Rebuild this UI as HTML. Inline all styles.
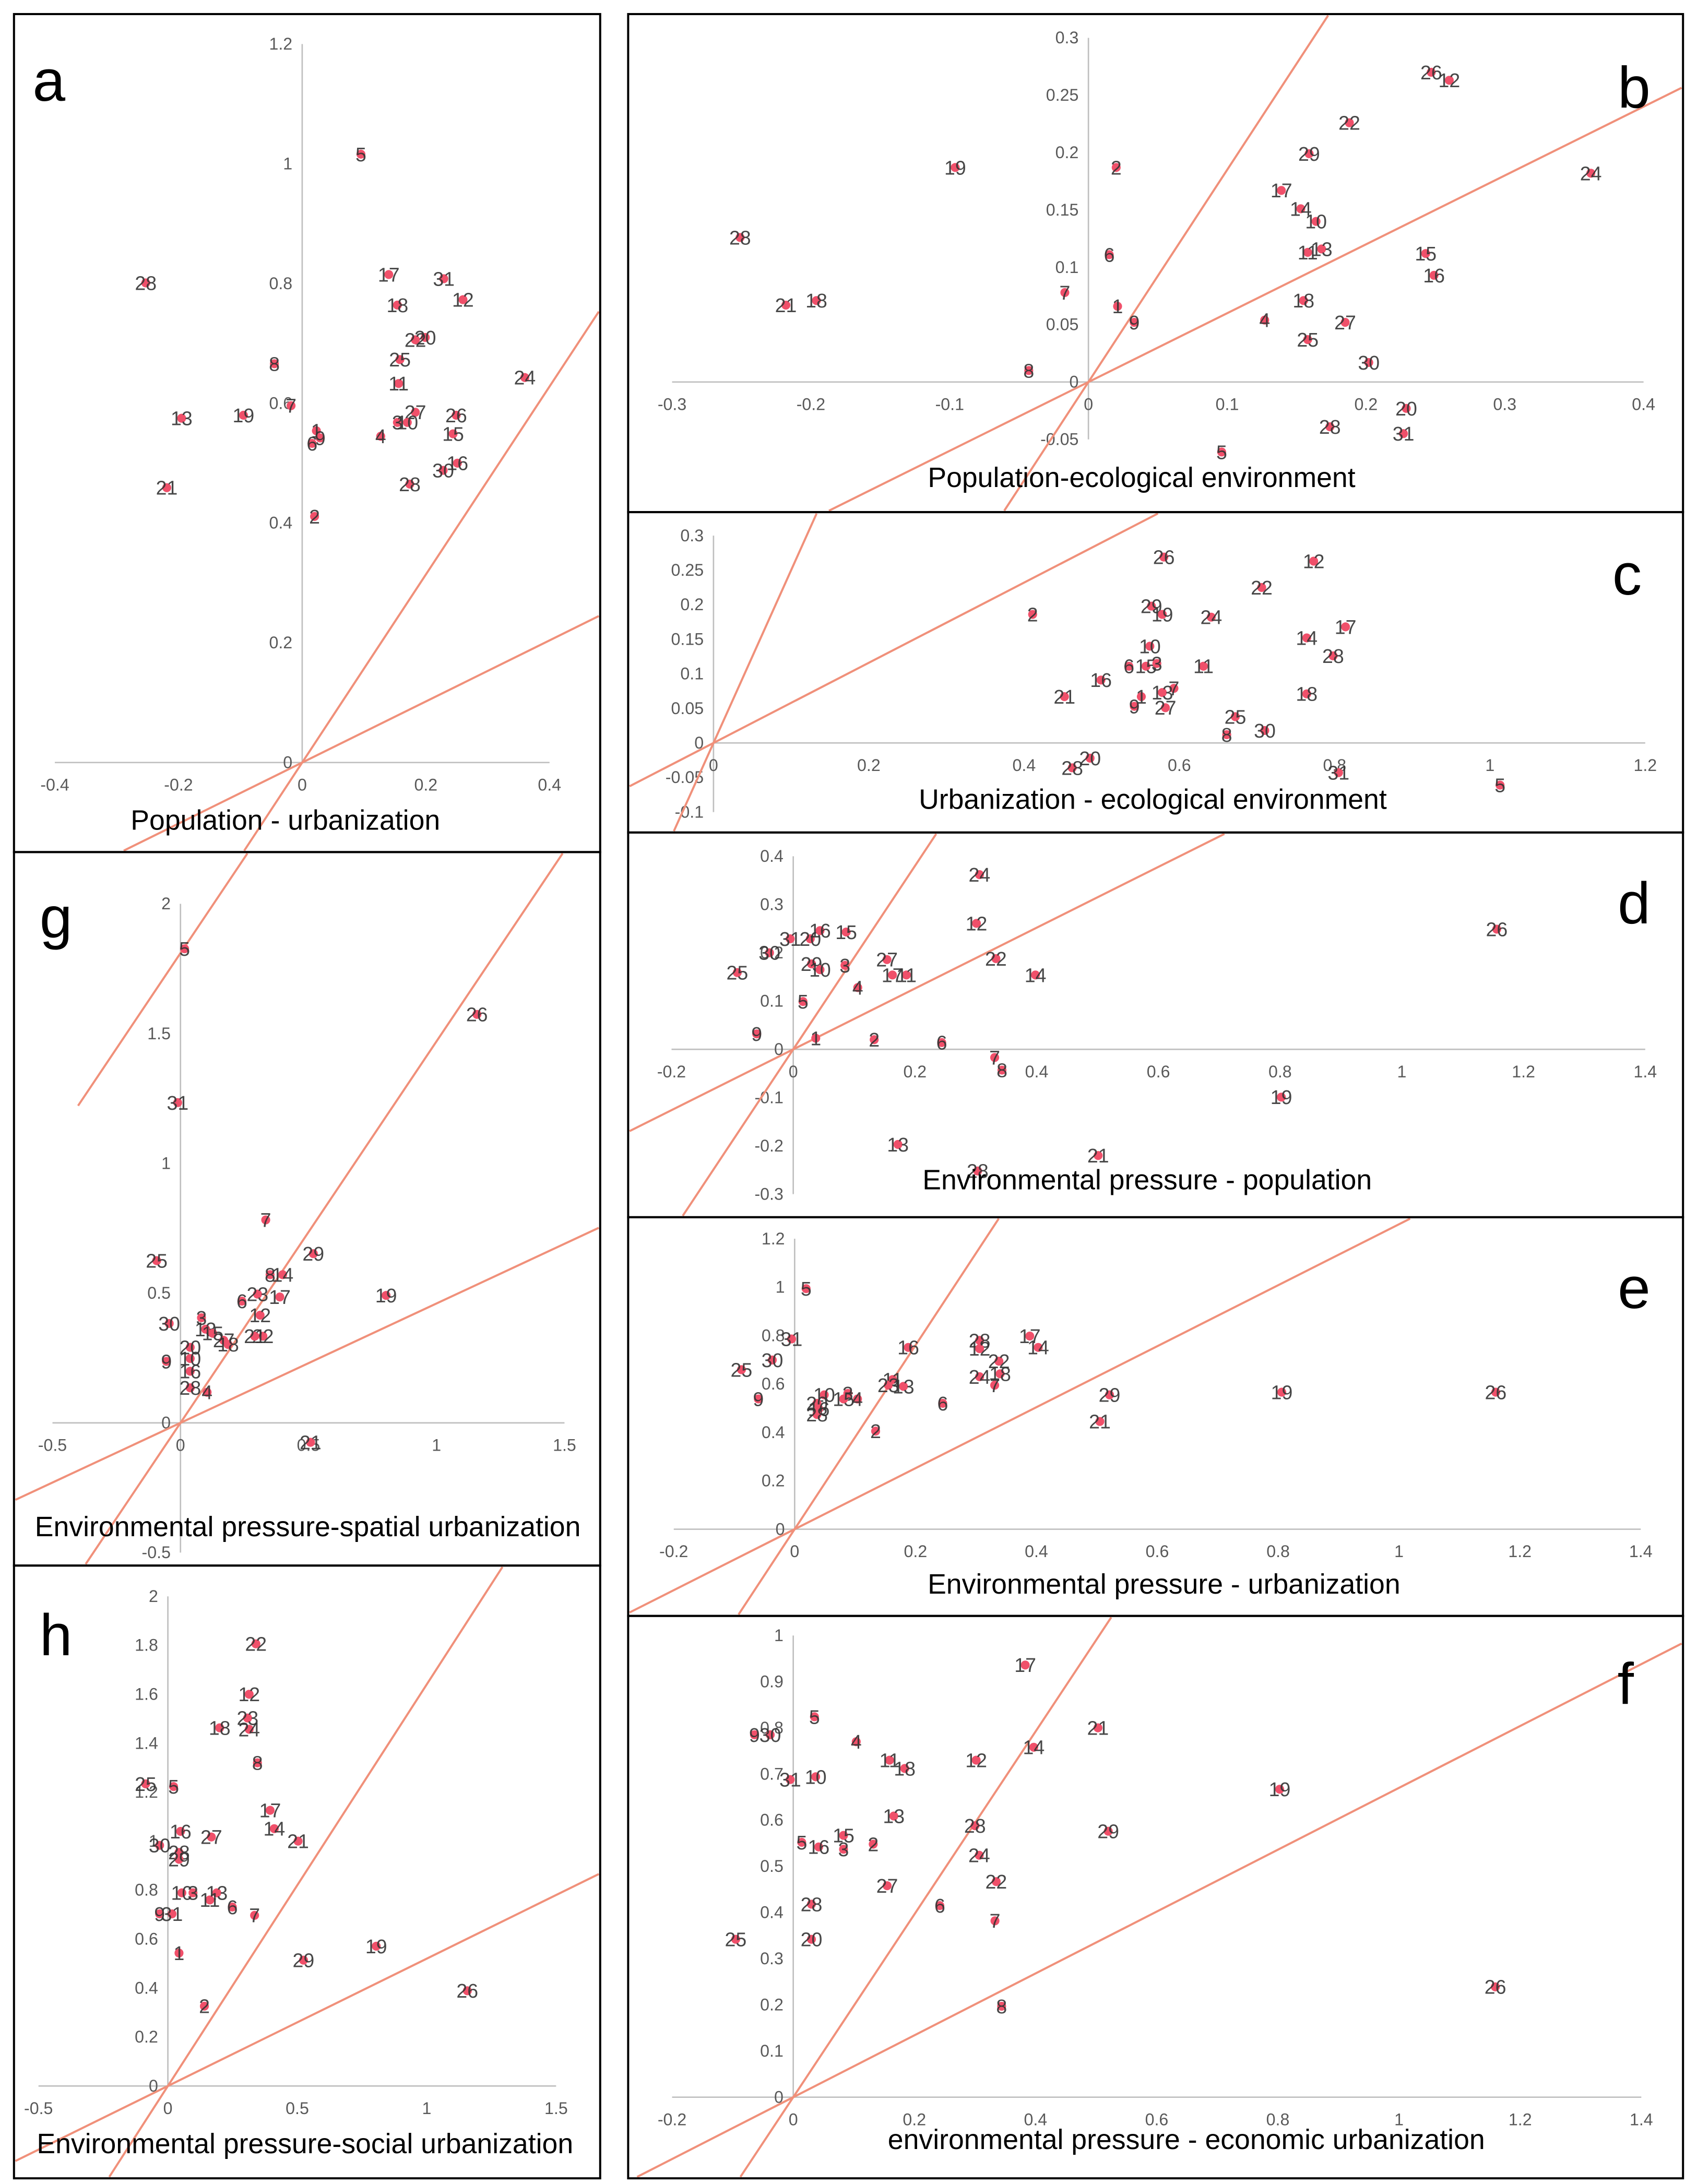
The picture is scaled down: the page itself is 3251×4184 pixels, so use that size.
<!DOCTYPE html>
<html><head><meta charset="utf-8"><style>
html,body{margin:0;padding:0;background:#fff;width:3251px;height:4184px;overflow:hidden;position:relative}
svg{display:block;position:absolute;left:0;top:0;overflow:hidden}
text{font-family:"Liberation Sans",Arial,sans-serif}
</style></head><body>
<svg id="fig" width="3251" height="4184" viewBox="0 0 1213 1561" xmlns="http://www.w3.org/2000/svg"></svg>
<script>
// ---------- DATA ----------
const aLabels=["5","17","31","28","18","12","20","22","8","25","11","24","7","13","19","27","26","3","10","15","1","9","6","4","16","30","28","21","2"];
const aX=[0.095,0.140,0.229,-0.253,0.154,0.260,0.199,0.183,-0.045,0.158,0.156,0.360,-0.018,-0.195,-0.095,0.183,0.249,0.154,0.170,0.244,0.023,0.029,0.016,0.127,0.251,0.228,0.174,-0.219,0.020];
const aY=[1.016,0.815,0.808,0.801,0.764,0.773,0.710,0.706,0.666,0.673,0.633,0.643,0.596,0.575,0.580,0.585,0.580,0.568,0.568,0.549,0.554,0.542,0.533,0.545,0.500,0.488,0.465,0.459,0.411];
const aXTicks=[-0.4,-0.2,0,0.2,0.4];
const aYTicks=[0,0.2,0.4,0.6,0.8,1,1.2];

const bLabels=["26","12","22","29","19","2","24","17","14","10","28","6","11","13","15","16","21","18","7","18","1","9","4","27","25","30","8","20","31","28","5"];
const bX=[0.247,0.260,0.188,0.159,-0.096,0.020,0.362,0.139,0.153,0.164,-0.251,0.015,0.158,0.168,0.243,0.249,-0.218,-0.196,-0.017,0.155,0.021,0.033,0.127,0.185,0.158,0.202,-0.043,0.229,0.227,0.174,0.096];
const bY=[0.270,0.263,0.226,0.199,0.187,0.187,0.182,0.167,0.151,0.140,0.126,0.111,0.113,0.116,0.112,0.093,0.067,0.071,0.078,0.071,0.066,0.052,0.054,0.052,0.037,0.017,0.010,-0.023,-0.045,-0.039,-0.061];
const bXTicks=[-0.3,-0.2,-0.1,0,0.1,0.2,0.3,0.4];
const bYTicks=[-0.05,0,0.05,0.1,0.15,0.2,0.25,0.3];

const cLabels=["26","12","22","2","29","19","24","17","14","10","28","6","15","3","11","16","21","7","1","13","9","27","18","25","8","30","20","28","31","5"];
const cX=[0.580,0.773,0.706,0.411,0.564,0.578,0.641,0.814,0.764,0.562,0.798,0.535,0.557,0.571,0.631,0.499,0.452,0.593,0.551,0.578,0.542,0.582,0.764,0.672,0.661,0.710,0.485,0.462,0.805,1.013];
const cY=[0.269,0.263,0.225,0.186,0.198,0.186,0.182,0.168,0.152,0.140,0.126,0.111,0.111,0.115,0.111,0.091,0.067,0.079,0.067,0.073,0.053,0.051,0.071,0.038,0.012,0.018,-0.022,-0.036,-0.043,-0.061];
const cXTicks=[0,0.2,0.4,0.6,0.8,1,1.2];
const cYTicks=[-0.1,-0.05,0,0.05,0.1,0.15,0.2,0.25,0.3];

const dLabels=["24","12","26","31","20","16","15","30","25","29","10","27","22","3","17","11","14","4","5","9","1","2","6","7","8","19","13","21","28"];
const dX=[0.306,0.301,1.156,-0.005,0.028,0.044,0.087,-0.039,-0.092,0.030,0.044,0.154,0.333,0.085,0.163,0.186,0.398,0.106,0.016,-0.060,0.037,0.133,0.244,0.331,0.343,0.802,0.172,0.501,0.303];
const dY=[0.362,0.261,0.249,0.229,0.229,0.246,0.243,0.200,0.159,0.177,0.165,0.186,0.188,0.174,0.154,0.154,0.154,0.128,0.099,0.032,0.023,0.020,0.014,-0.017,-0.043,-0.099,-0.197,-0.220,-0.252];
const dXTicks=[-0.2,0,0.2,0.4,0.6,0.8,1,1.2,1.4];
const dYTicks=[-0.3,-0.2,-0.1,0,0.1,0.2,0.3,0.4];

const eLabels=["5","31","17","28","14","16","12","22","30","25","24","18","11","7","23","13","9","10","3","15","4","6","29","19","26","20","16","28","21","2"];
const eX=[0.019,-0.005,0.389,0.306,0.403,0.188,0.306,0.338,-0.037,-0.088,0.306,0.340,0.162,0.331,0.155,0.180,-0.060,0.049,0.088,0.081,0.104,0.245,0.521,0.806,1.160,0.037,0.040,0.037,0.505,0.134];
const eY=[0.994,0.786,0.798,0.780,0.751,0.751,0.746,0.694,0.699,0.659,0.630,0.642,0.618,0.595,0.595,0.590,0.538,0.555,0.561,0.538,0.538,0.520,0.555,0.566,0.566,0.520,0.497,0.474,0.445,0.405];
const eXTicks=[-0.2,0,0.2,0.4,0.6,0.8,1,1.2,1.4];
const eYTicks=[0,0.2,0.4,0.6,0.8,1,1.2];

const fLabels=["17","21","9","30","5","4","14","11","18","12","31","10","19","13","28","29","15","5","16","3","2","24","22","27","6","28","7","25","20","26","8"];
const fX=[0.383,0.503,-0.064,-0.038,0.035,0.104,0.397,0.159,0.184,0.302,-0.005,0.037,0.803,0.166,0.300,0.520,0.083,0.014,0.042,0.083,0.132,0.307,0.335,0.155,0.242,0.030,0.333,-0.095,0.030,1.159,0.344];
const fY=[0.936,0.800,0.785,0.785,0.824,0.770,0.758,0.730,0.712,0.730,0.688,0.694,0.667,0.609,0.588,0.576,0.567,0.552,0.542,0.537,0.548,0.524,0.467,0.458,0.415,0.418,0.382,0.342,0.342,0.239,0.197];
const fXTicks=[-0.2,0,0.2,0.4,0.6,0.8,1,1.2,1.4];
const fYTicks=[0,0.1,0.2,0.3,0.4,0.5,0.6,0.7,0.8,0.9,1];

const gLabels=["5","26","31","7","25","29","8","14","23","17","19","6","12","30","3","13","15","22","21","27","18","20","10","9","16","28","4","21"];
const gX=[0.016,1.158,-0.011,0.333,-0.093,0.519,0.350,0.399,0.301,0.388,0.803,0.240,0.311,-0.044,0.082,0.098,0.126,0.322,0.290,0.169,0.186,0.038,0.038,-0.055,0.038,0.038,0.104,0.508];
const gY=[1.827,1.574,1.234,0.782,0.625,0.652,0.571,0.571,0.496,0.485,0.491,0.469,0.415,0.383,0.405,0.361,0.345,0.334,0.334,0.318,0.302,0.291,0.248,0.237,0.199,0.135,0.118,-0.075];
const gXTicks=[-0.5,0,0.5,1,1.5];
const gYTicks=[-0.5,0,0.5,1,1.5,2];

const hLabels=["22","12","23","18","24","8","25","5","17","16","14","27","21","30","28","29","10","3","13","11","6","7","9","31","19","1","29","26","2"];
const hX=[0.340,0.314,0.308,0.200,0.314,0.346,-0.086,0.022,0.395,0.049,0.411,0.168,0.503,-0.032,0.043,0.043,0.054,0.097,0.189,0.162,0.249,0.335,-0.032,0.016,0.805,0.043,0.524,1.157,0.141];
const hY=[1.806,1.600,1.503,1.463,1.457,1.320,1.234,1.223,1.126,1.040,1.051,1.017,1.000,0.983,0.954,0.926,0.789,0.789,0.789,0.760,0.731,0.697,0.703,0.703,0.571,0.543,0.514,0.389,0.326];
const hXTicks=[-0.5,0,0.5,1,1.5];
const hYTicks=[0,0.2,0.4,0.6,0.8,1,1.2,1.4,1.6,1.8,2];

// line slopes / intercepts (data units)
const aSlopes=[1.57,0.51]; const aIntercepts=[0,0];
const bSlopes=[1.85,0.6]; const bIntercepts=[0,0];
const cSlopes=[2.5,0.58]; const cIntercepts=[0,0];
const dSlopes=[1.9,0.63]; const dIntercepts=[0,0];
const eSlopes=[3.8,1.26]; const eIntercepts=[0,0];
const fSlopes=[1.98,0.67]; const fIntercepts=[0,0];
const gSlopes=[1.47,1.47,0.46]; const gIntercepts=[1.81,0,0];
const hSlopes=[1.64,0.52]; const hIntercepts=[0,0];
const gLineMin=[-0.4,null,null];

// ---------- LAYOUT ----------
const panels=[
 {id:"a",box:[10,10,419,599],ox:216,oy:545,kx:442,ky:428,labels:aLabels,xs:aX,ys:aY,xt:aXTicks,yt:aYTicks,sl:aSlopes,ic:aIntercepts,title:"Population - urbanization",tx:204,ty:600,lx:35,ly:72,yExt:[0,1.2]},
 {id:"b",box:[449,10,754,356],ox:778,oy:273,kx:992,ky:820,labels:bLabels,xs:bX,ys:bY,xt:bXTicks,yt:bYTicks,sl:bSlopes,ic:bIntercepts,title:"Population-ecological environment",tx:816,ty:355,lx:1168,ly:77,yExt:[-0.05,0.3]},
 {id:"c",box:[449,366,754,229],ox:510,oy:531,kx:555,ky:494,labels:cLabels,xs:cX,ys:cY,xt:cXTicks,yt:cYTicks,sl:cSlopes,ic:cIntercepts,title:"Urbanization - ecological environment",tx:824,ty:585,lx:1163,ly:425,yExt:[-0.1,0.3]},
 {id:"d",box:[449,595,754,275],ox:567,oy:750,kx:435,ky:345,labels:dLabels,xs:dX,ys:dY,xt:dXTicks,yt:dYTicks,sl:dSlopes,ic:dIntercepts,title:"Environmental pressure - population",tx:820,ty:857,lx:1168,ly:660,yExt:[-0.3,0.4]},
 {id:"e",box:[449,870,754,285],ox:568,oy:1093,kx:432,ky:173,labels:eLabels,xs:eX,ys:eY,xt:eXTicks,yt:eYTicks,sl:eSlopes,ic:eIntercepts,title:"Environmental pressure - urbanization",tx:832,ty:1146,lx:1168,ly:935,yExt:[0,1.2]},
 {id:"f",box:[449,1155,754,402],ox:567,oy:1499,kx:433,ky:330,labels:fLabels,xs:fX,ys:fY,xt:fXTicks,yt:fYTicks,sl:fSlopes,ic:fIntercepts,title:"environmental pressure - economic urbanization",tx:848,ty:1543,lx:1162,ly:1218,yExt:[0,1]},
 {id:"g",box:[10,609,419,510],ox:129,oy:1017,kx:183,ky:185.5,labels:gLabels,xs:gX,ys:gY,xt:gXTicks,yt:gYTicks,sl:gSlopes,ic:gIntercepts,lmin:gLineMin,title:"Environmental pressure-spatial urbanization",tx:220,ty:1105,lx:40,ly:670,yExt:[-0.5,2]},
 {id:"h",box:[10,1119,419,438],ox:120,oy:1491,kx:185,ky:175,labels:hLabels,xs:hX,ys:hY,xt:hXTicks,yt:hYTicks,sl:hSlopes,ic:hIntercepts,title:"Environmental pressure-social urbanization",tx:218,ty:1546,lx:40,ly:1183,yExt:[0,2]}
];

const NS="http://www.w3.org/2000/svg";
const fig=document.getElementById("fig");
function mk(tag,attrs,parent){const e=document.createElementNS(NS,tag);for(const k in attrs)e.setAttribute(k,attrs[k]);(parent||fig).appendChild(e);return e;}
function fmt(v){return String(Math.round(v*1000)/1000);}
// clip segment (pixel coords) to rectangle
function clipSeg(x1,y1,x2,y2,L,T,R,B){
  let t0=0,t1=1;const dx=x2-x1,dy=y2-y1;
  const P=[-dx,dx,-dy,dy],Q=[x1-L,R-x1,y1-T,B-y1];
  for(let i=0;i<4;i++){
    if(P[i]===0){if(Q[i]<0)return null;continue;}
    const r=Q[i]/P[i];
    if(P[i]<0){if(r>t1)return null;if(r>t0)t0=r;}
    else{if(r<t0)return null;if(r<t1)t1=r;}
  }
  return [x1+t0*dx,y1+t0*dy,x1+t1*dx,y1+t1*dy];
}

panels.forEach(p=>{
  const g=mk("g",{});
  
  
  const [bx,by,bw,bh]=p.box;
  const X=v=>p.ox+v*p.kx, Y=v=>p.oy-v*p.ky;
  const xa=mk("line",{x1:X(p.xt[0]),x2:X(p.xt[p.xt.length-1]),y1:p.oy,y2:p.oy,stroke:"#bfbfbf","stroke-width":1},g);
  
  
  const ya=mk("line",{x1:p.ox,x2:p.ox,y1:Y(p.yExt[0]),y2:Y(p.yExt[1]),stroke:"#bfbfbf","stroke-width":1},g);
  
  
  p.xt.forEach(v=>{
    const t=mk("text",{x:X(v),y:p.oy+20,"font-size":12,fill:"#595959","text-anchor":"middle"},g);
    
    
    t.textContent=fmt(v);
  });
  p.yt.forEach(v=>{
    const t=mk("text",{x:p.ox-7,y:Y(v)+4,"font-size":12,fill:"#595959","text-anchor":"end"},g);
    
    
    t.textContent=fmt(v);
  });
  const x0=(bx-p.ox)/p.kx, x1=(bx+bw-p.ox)/p.kx;
  p.sl.forEach((s,i)=>{
    const xs0=(p.lmin&&p.lmin[i]!=null)?p.lmin[i]:x0;
    const seg=clipSeg(X(xs0),Y(p.ic[i]+s*xs0),X(x1),Y(p.ic[i]+s*x1),bx+1,by+1,bx+bw-1,by+bh-1);
    if(!seg)return;
    const l=mk("line",{x1:seg[0],y1:seg[1],x2:seg[2],y2:seg[3],stroke:"#f0907a","stroke-width":1.5},g);
    
    
  });
  p.xs.forEach((v,i)=>{
    const c=mk("circle",{cx:X(v),cy:Y(p.ys[i]),r:3.2,fill:"#f0506a"},g);
    
    
    const t=mk("text",{x:X(v),y:Y(p.ys[i])+5,"font-size":14,fill:"#333","text-anchor":"middle","fill-opacity":0.9},g);
    
    
    t.textContent=p.labels[i];
  });
  const tt=mk("text",{x:p.tx,y:p.ty-7,"font-size":20,fill:"#000","text-anchor":"middle"},g);
  
  
  tt.textContent=p.title;
  const lt=mk("text",{x:p.lx,y:p.ly,"font-size":42,fill:"#000","text-anchor":"middle"},g);
  
  
  lt.textContent=p.id;
  const br=mk("rect",{x:bx,y:by,width:bw,height:bh,fill:"none",stroke:"#000","stroke-width":1.5},g);
  
  
});
</script>
</body></html>
